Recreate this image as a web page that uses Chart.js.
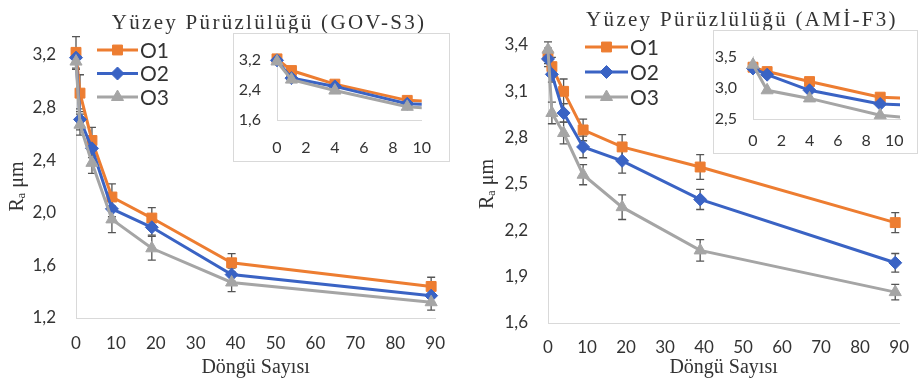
<!DOCTYPE html>
<html>
<head>
<meta charset="utf-8">
<title>Yüzey Pürüzlülüğü</title>
<script src="https://cdn.jsdelivr.net/npm/chart.js@4.4.1/dist/chart.umd.min.js"></script>
<style>
  body { margin: 0; background: #fff; }
  #wrap { position: relative; width: 923px; height: 381px; overflow: hidden; }
  canvas { position: absolute; }
  .title {
    position: absolute; transform: translate(-50%, -50%);
    font-family: "Liberation Serif", serif; font-size: 21px; letter-spacing: 2.3px;
    color: #333; white-space: nowrap;
  }
  .inset { position: absolute; background: #fff; border: 1px solid #d9d9d9; box-sizing: border-box; }
  .inset canvas { left: 0; top: 0; }
</style>
</head>
<body>
<div id="wrap">
  <canvas id="govMain" width="460" height="381" style="left:0;top:0"></canvas>
  <canvas id="amiMain" width="463" height="381" style="left:460px;top:0"></canvas>
  <div class="title" style="left:269px;top:22px">Yüzey Pürüzlülüğü (GOV-S3)</div>
  <div class="title" style="left:742px;top:19px">Yüzey Pürüzlülüğü (AMİ-F3)</div>
  <div class="inset" style="left:233px;top:33px;width:217px;height:129px">
    <canvas id="govInset" width="215" height="127"></canvas>
  </div>
  <div class="inset" style="left:713px;top:30px;width:205px;height:124px">
    <canvas id="amiInset" width="203" height="122"></canvas>
  </div>
</div>
<script>
// cycle counts (x) shared by both materials
const cycles = [0, 1, 4, 9, 19, 39, 89];
const seriesNames = ['O1', 'O2', 'O3'];

// GOV-S3 mean Ra and standard deviation
const govO1 = [3.22, 2.91, 2.55, 2.12, 1.96, 1.62, 1.44];
const govO2 = [3.18, 2.71, 2.49, 2.03, 1.89, 1.53, 1.37];
const govO3 = [3.15, 2.67, 2.38, 1.95, 1.73, 1.47, 1.32];
const govO1Err = [0.12, 0.14, 0.10, 0.10, 0.08, 0.07, 0.07];
const govO2Err = [0.05, 0.08, 0.07, 0.06, 0.06, 0.05, 0.05];
const govO3Err = [0.06, 0.08, 0.08, 0.10, 0.09, 0.07, 0.06];

// AMİ-F3 mean Ra and standard deviation
const amiO1 = [3.33, 3.26, 3.10, 2.85, 2.74, 2.61, 2.25];
const amiO2 = [3.31, 3.21, 2.96, 2.74, 2.65, 2.40, 1.99];
const amiO3 = [3.37, 2.96, 2.83, 2.56, 2.35, 2.07, 1.80];
const amiO1Err = [0.05, 0.06, 0.08, 0.07, 0.08, 0.08, 0.065];
const amiO2Err = [0.05, 0.05, 0.06, 0.07, 0.08, 0.065, 0.06];
const amiO3Err = [0.05, 0.07, 0.07, 0.065, 0.08, 0.07, 0.05];

const colors = ['#ED7D31', '#3A63C4', '#A5A5A5'];
const markers = [
  { style: 'rect', radius: 7 },
  { style: 'rectRot', radius: 6.5 },
  { style: 'triangle', radius: 7 }
];
const tickColor = '#333';
const sans = 'Lato, "Open Sans", sans-serif';
const serif = '"Liberation Serif", "DejaVu Serif", serif';

const comma = v => Number(v).toFixed(1).replace('.', ',');

// vertical error bars with caps, placed through the y scale
const errorBars = {
  id: 'errorBars',
  beforeDatasetsDraw(chart) {
    const ctx = chart.ctx;
    const yScale = chart.scales.y;
    ctx.save();
    ctx.strokeStyle = '#555';
    ctx.lineWidth = 1.3;
    chart.data.datasets.forEach((ds, i) => {
      if (!ds.errors) return;
      chart.getDatasetMeta(i).data.forEach((pt, j) => {
        const v = ds.data[j].y, e = ds.errors[j];
        const top = yScale.getPixelForValue(v + e);
        const bot = yScale.getPixelForValue(v - e);
        ctx.beginPath();
        ctx.moveTo(pt.x, top); ctx.lineTo(pt.x, bot);
        ctx.moveTo(pt.x - 4, top); ctx.lineTo(pt.x + 4, top);
        ctx.moveTo(pt.x - 4, bot); ctx.lineTo(pt.x + 4, bot);
        ctx.stroke();
      });
    });
    ctx.restore();
  }
};

// stacked legend with line + marker samples inside the plot
const sideLegend = {
  id: 'sideLegend',
  afterDraw(chart, args, opts) {
    if (opts.x == null) return;
    const ctx = chart.ctx;
    ctx.save();
    chart.data.datasets.forEach((ds, i) => {
      const y = opts.y + i * opts.gap;
      ctx.strokeStyle = ds.borderColor;
      ctx.lineWidth = 3;
      ctx.beginPath();
      ctx.moveTo(opts.x, y); ctx.lineTo(opts.x + opts.len, y);
      ctx.stroke();
      ctx.fillStyle = ds.borderColor;
      ctx.lineWidth = 1;
      Chart.helpers.drawPoint(ctx, { pointStyle: ds.pointStyle, radius: ds.pointRadius, borderWidth: 1, rotation: 0 },
        opts.x + opts.len / 2, y);
      ctx.fillStyle = tickColor;
      ctx.font = '21px ' + sans;
      ctx.textBaseline = 'middle';
      ctx.fillText(seriesNames[i], opts.x + opts.len + 2, y + 1);
    });
    ctx.restore();
  }
};

function makeSets(vals, errs, clip) {
  return vals.map((v, i) => ({
    label: seriesNames[i],
    data: cycles.map((c, k) => ({ x: c, y: v[k] })),
    errors: errs ? errs[i] : null,
    borderColor: colors[i],
    backgroundColor: colors[i],
    borderWidth: 3,
    pointStyle: markers[i].style,
    pointRadius: markers[i].radius,
    pointBackgroundColor: colors[i],
    pointBorderColor: colors[i],
    pointBorderWidth: 1,
    tension: 0,
    clip: clip,
    order: 2 - i
  }));
}

function axisBorder() {
  return { display: true, color: '#d9d9d9', width: 1 };
}

function mainChart(id, vals, errs, cfg) {
  return new Chart(document.getElementById(id), {
    type: 'line',
    data: { datasets: makeSets(vals, errs, false) },
    plugins: [errorBars, sideLegend],
    options: {
      responsive: false,
      animation: false,
      layout: { padding: { top: cfg.top, right: cfg.right, left: 0, bottom: 0 } },
      plugins: { legend: { display: false }, tooltip: { enabled: false }, sideLegend: cfg.legend },
      scales: {
        x: {
          type: 'linear', min: 0, max: 90,
          grid: { display: false, drawTicks: false },
          border: axisBorder(),
          ticks: { stepSize: 10, includeBounds: false, padding: cfg.xPad, color: tickColor, font: { family: sans, size: 17 } },
          title: { display: true, text: 'Döngü Sayısı', color: '#333', font: { family: serif, size: 20 }, padding: { top: 0, bottom: 1 } },
          afterFit: s => { s.height = cfg.xHeight; }
        },
        y: {
          min: cfg.yMin, max: cfg.yMax,
          grid: { display: false, drawTicks: false },
          border: axisBorder(),
          ticks: { stepSize: cfg.yStep, includeBounds: false, padding: 20, color: tickColor, font: { family: sans, size: 17 }, callback: comma },
          title: { display: true, text: 'Rₐ μm', color: '#333', font: { family: serif, size: 20 }, padding: { top: cfg.titlePad, bottom: 0 } },
          afterFit: s => { s.width = cfg.yWidth; }
        }
      }
    }
  });
}

function insetChart(id, vals, cfg) {
  return new Chart(document.getElementById(id), {
    type: 'line',
    data: { datasets: makeSets(vals, null, { left: false, top: false, right: 0, bottom: false }) },
    options: {
      responsive: false,
      animation: false,
      layout: { padding: { top: cfg.top, right: cfg.right, left: 0, bottom: 0 } },
      plugins: { legend: { display: false }, tooltip: { enabled: false } },
      scales: {
        x: {
          type: 'linear', min: 0, max: cfg.xMax,
          grid: { display: false, drawTicks: false },
          border: axisBorder(),
          ticks: { stepSize: 2, includeBounds: false, padding: cfg.xPad, color: tickColor, font: { family: sans, size: 16 } },
          afterFit: s => { s.height = cfg.xHeight; }
        },
        y: {
          min: cfg.yMin, max: cfg.yMax,
          grid: { display: false, drawTicks: false },
          border: axisBorder(),
          ticks: { stepSize: cfg.yStep, includeBounds: false, padding: 16, color: tickColor, font: { family: sans, size: 16 }, callback: comma },
          afterFit: s => { s.width = cfg.yWidth; }
        }
      }
    }
  });
}

mainChart('govMain', [govO1, govO2, govO3], [govO1Err, govO2Err, govO3Err], {
  top: 55, right: 13, xHeight: 63, yWidth: 76, xPad: 15, titlePad: 6,
  yMin: 1.2, yMax: 3.2, yStep: 0.4,
  legend: { x: 97, y: 50, gap: 23.5, len: 41 }
});
mainChart('amiMain', [amiO1, amiO2, amiO3], [amiO1Err, amiO2Err, amiO3Err], {
  top: 45, right: 8, xHeight: 58, yWidth: 88, xPad: 14, titlePad: 16,
  yMin: 1.6, yMax: 3.4, yStep: 0.3,
  legend: { x: 125, y: 47, gap: 25, len: 43 }
});
insetChart('govInset', [govO1, govO2, govO3], {
  top: 23, right: 24, xHeight: 41, yWidth: 43, xPad: 18, xMax: 10,
  yMin: 1.6, yMax: 3.2, yStep: 0.8
});
insetChart('amiInset', [amiO1, amiO2, amiO3], {
  top: 10, right: 17, xHeight: 34, yWidth: 39, xPad: 12, xMax: 10.4,
  yMin: 2.5, yMax: 3.5, yStep: 0.5
});
</script>
</body>
</html>
